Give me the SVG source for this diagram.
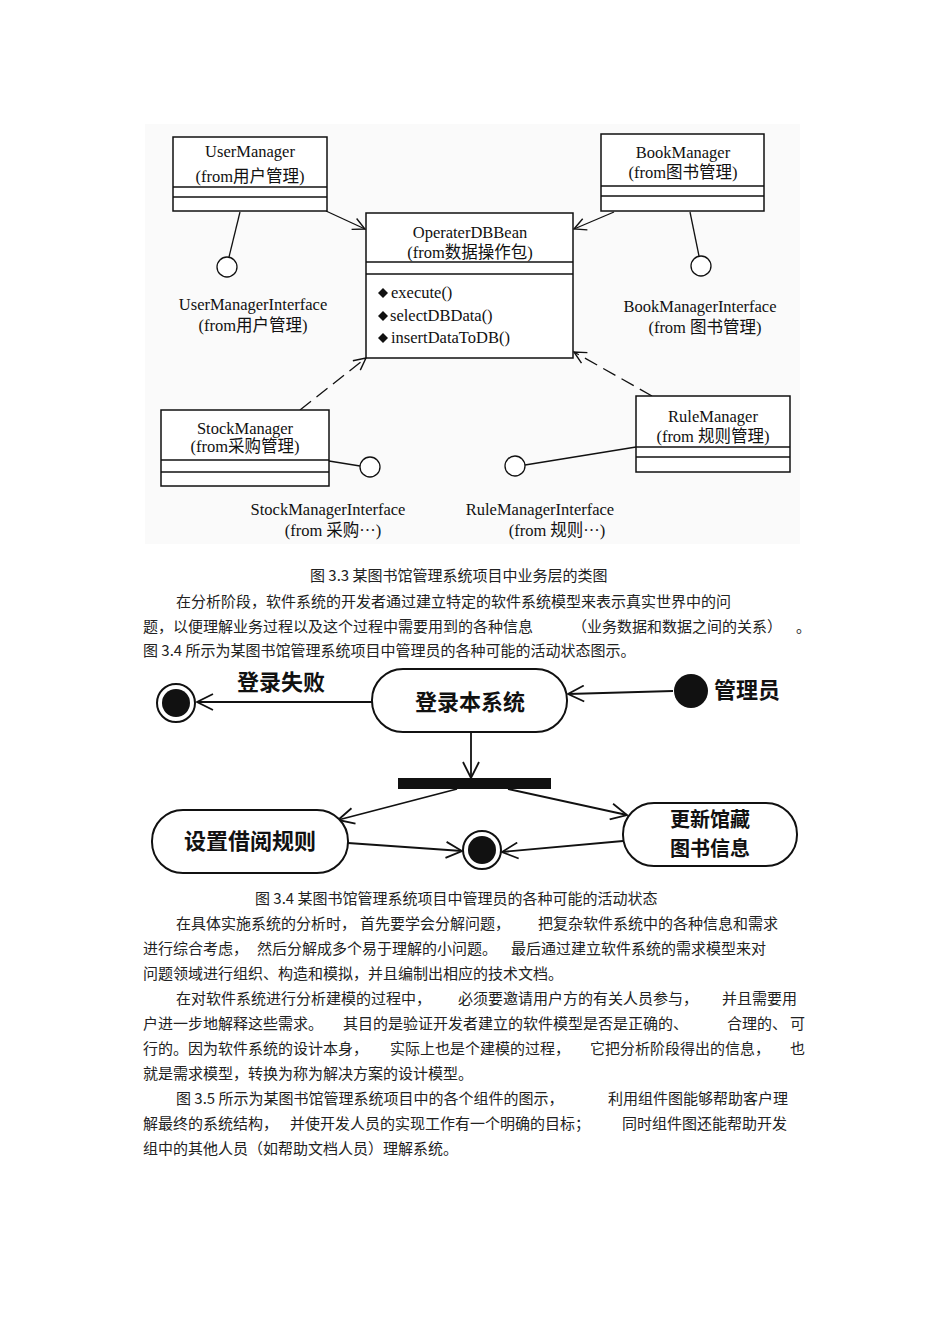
<svg xmlns="http://www.w3.org/2000/svg" width="950" height="1343" viewBox="0 0 950 1343">
<style>
.bg{fill:#ffffff}
.cls{fill:#ffffff;stroke:#111;stroke-width:1.5}
.sep{stroke:#111;stroke-width:1.5}
.ln{stroke:#111;stroke-width:1.3;fill:none}
.dash{stroke:#111;stroke-width:1.3;fill:none;stroke-dasharray:14 7}
.itf{fill:#ffffff;stroke:#111;stroke-width:1.3}
.t{font-family:"Liberation Serif","Noto Sans CJK SC",serif;font-size:16.5px;fill:#111;text-anchor:middle}
.m{font-family:"Liberation Serif","Noto Sans CJK SC",serif;font-size:16.5px;fill:#111}
.act{fill:#ffffff;stroke:#111;stroke-width:2}
.aln{stroke:#111;stroke-width:1.8;fill:none}
.at{font-family:"Noto Sans CJK SC",sans-serif;font-size:22px;font-weight:bold;fill:#111}
.at2{font-family:"Noto Sans CJK SC",sans-serif;font-size:20px;font-weight:bold;fill:#111;text-anchor:middle}
.p{font-family:"Noto Sans CJK SC",sans-serif;font-size:15px;fill:#222}
.cap{font-family:"Noto Sans CJK SC",sans-serif;font-size:15px;fill:#222}
</style>
<defs>
<marker id="open" markerUnits="userSpaceOnUse" markerWidth="14" markerHeight="14" viewBox="0 0 14 14" refX="13" refY="7" orient="auto">
<path d="M1,1 L13,7 L1,13" fill="none" stroke="#111" stroke-width="1.4"/>
</marker>
<marker id="open2" markerUnits="userSpaceOnUse" markerWidth="18" markerHeight="18" viewBox="0 0 18 18" refX="17" refY="9" orient="auto">
<path d="M1,1 L17,9 L1,17" fill="none" stroke="#111" stroke-width="1.8"/>
</marker>
</defs>
<rect class="bg" x="0" y="0" width="950" height="1343"/>
<rect x="145" y="124" width="655" height="420" fill="#fafafa"/>

<!-- class diagram connectors -->
<g id="class-connectors">
<line class="ln" x1="326" y1="211" x2="365" y2="229" marker-end="url(#open)"/>
<line class="ln" x1="614" y1="212" x2="574" y2="229" marker-end="url(#open)"/>
<line class="dash" x1="300" y1="410" x2="366" y2="358" marker-end="url(#open)"/>
<line class="dash" x1="652" y1="396" x2="574" y2="352" marker-end="url(#open)"/>
<line class="ln" x1="240" y1="212" x2="229" y2="257"/>
<line class="ln" x1="690" y1="212" x2="699" y2="256"/>
<line class="ln" x1="329" y1="461" x2="360" y2="466"/>
<line class="ln" x1="636" y1="447" x2="525" y2="465"/>
</g>

<g id="UserManager">
<rect class="cls" x="173" y="137" width="154" height="74"/>
<line class="sep" x1="173" y1="187" x2="327" y2="187"/>
<line class="sep" x1="173" y1="197" x2="327" y2="197"/>
<text class="t" x="250" y="157">UserManager</text>
<text class="t" x="250" y="182">(from用户管理)</text>
</g>

<g id="OperaterDBBean">
<rect class="cls" x="366" y="213" width="207" height="145"/>
<line class="sep" x1="366" y1="262" x2="573" y2="262"/>
<line class="sep" x1="366" y1="274" x2="573" y2="274"/>
<text class="t" x="470" y="238">OperaterDBBean</text>
<text class="t" x="470" y="258">(from数据操作包)</text>
<polygon points="383,288 388,293 383,298 378,293" fill="#111"/>
<text class="m" x="391" y="298">execute()</text>
<polygon points="383,311 388,316 383,321 378,316" fill="#111"/>
<text class="m" x="390" y="321">selectDBData()</text>
<polygon points="383,333 388,338 383,343 378,338" fill="#111"/>
<text class="m" x="391" y="343">insertDataToDB()</text>
</g>

<g id="BookManager">
<rect class="cls" x="601" y="134" width="163" height="77"/>
<line class="sep" x1="601" y1="186" x2="764" y2="186"/>
<line class="sep" x1="601" y1="196" x2="764" y2="196"/>
<text class="t" x="683" y="158">BookManager</text>
<text class="t" x="683" y="178">(from图书管理)</text>
</g>

<g id="StockManager">
<rect class="cls" x="161" y="410" width="168" height="76"/>
<line class="sep" x1="161" y1="460" x2="329" y2="460"/>
<line class="sep" x1="161" y1="472" x2="329" y2="472"/>
<text class="t" x="245" y="434">StockManager</text>
<text class="t" x="245" y="452">(from采购管理)</text>
</g>

<g id="RuleManager">
<rect class="cls" x="636" y="396" width="154" height="76"/>
<line class="sep" x1="636" y1="447" x2="790" y2="447"/>
<line class="sep" x1="636" y1="457" x2="790" y2="457"/>
<text class="t" x="713" y="422">RuleManager</text>
<text class="t" x="713" y="442">(from 规则管理)</text>
</g>

<g id="UserManagerInterface">
<circle class="itf" cx="227" cy="267" r="10"/>
<text class="t" x="253" y="310">UserManagerInterface</text>
<text class="t" x="253" y="331">(from用户管理)</text>
</g>
<g id="BookManagerInterface">
<circle class="itf" cx="701" cy="266" r="10"/>
<text class="t" x="700" y="312">BookManagerInterface</text>
<text class="t" x="705" y="333">(from 图书管理)</text>
</g>
<g id="StockManagerInterface">
<circle class="itf" cx="370" cy="467" r="10"/>
<text class="t" x="328" y="515">StockManagerInterface</text>
<text class="t" x="333" y="536">(from 采购···)</text>
</g>
<g id="RuleManagerInterface">
<circle class="itf" cx="515" cy="466" r="10"/>
<text class="t" x="540" y="515">RuleManagerInterface</text>
<text class="t" x="557" y="536">(from 规则···)</text>
</g>

<text class="cap" x="310" y="581">图 3.3 某图书馆管理系统项目中业务层的类图</text>
<text class="p" x="176" y="607">在分析阶段，软件系统的开发者通过建立特定的软件系统模型来表示真实世界中的问</text>
<text class="p" x="143" y="632">题，以便理解业务过程以及这个过程中需要用到的各种信息</text>
<text class="p" x="572" y="632">（业务数据和数据之间的关系）</text>
<text class="p" x="796" y="632">。</text>
<text class="p" x="143" y="656">图 3.4 所示为某图书馆管理系统项目中管理员的各种可能的活动状态图示。</text>

<!-- activity diagram connectors -->
<g id="activity-connectors">
<line class="aln" x1="372" y1="702" x2="197" y2="702" marker-end="url(#open2)"/>
<line class="aln" x1="673" y1="691" x2="568" y2="694" marker-end="url(#open2)"/>
<line class="aln" x1="471" y1="732" x2="471" y2="778" marker-end="url(#open2)"/>
<line class="aln" x1="457" y1="789" x2="338" y2="820" marker-end="url(#open2)"/>
<line class="aln" x1="508" y1="789" x2="627" y2="815" marker-end="url(#open2)"/>
<line class="aln" x1="348" y1="843" x2="462" y2="851" marker-end="url(#open2)"/>
<line class="aln" x1="623" y1="841" x2="502" y2="852" marker-end="url(#open2)"/>
</g>

<g id="final-left">
<circle cx="176" cy="703" r="19" fill="#fff" stroke="#111" stroke-width="2"/>
<circle cx="176" cy="703" r="14" fill="#111"/>
</g>
<text class="at" x="237" y="690">登录失败</text>

<g id="login">
<rect class="act" x="372" y="669" width="195" height="63" rx="31" ry="31"/>
<text class="at" x="470" y="710" text-anchor="middle">登录本系统</text>
</g>

<g id="start">
<circle cx="691" cy="691" r="17" fill="#111"/>
<text class="at" x="714" y="698">管理员</text>
</g>

<g id="fork">
<rect x="398" y="778" width="153" height="11" fill="#111"/>
</g>

<g id="set-rules">
<rect class="act" x="152" y="810" width="196" height="63" rx="31" ry="31"/>
<text class="at" x="250" y="849" text-anchor="middle">设置借阅规则</text>
</g>

<g id="final-center">
<circle cx="482" cy="850" r="19" fill="#fff" stroke="#111" stroke-width="2"/>
<circle cx="482" cy="850" r="14" fill="#111"/>
</g>

<g id="update-books">
<rect class="act" x="623" y="803" width="174" height="63" rx="31" ry="31"/>
<text class="at2" x="710" y="827">更新馆藏<tspan x="710" dy="29">图书信息</tspan></text>
</g>

<text class="cap" x="255" y="904">图 3.4 某图书馆管理系统项目中管理员的各种可能的活动状态</text>
<text class="p" x="176" y="929">在具体实施系统的分析时，</text>
<text class="p" x="360" y="929">首先要学会分解问题，</text>
<text class="p" x="538" y="929">把复杂软件系统中的各种信息和需求</text>
<text class="p" x="143" y="954">进行综合考虑，</text>
<text class="p" x="257" y="954">然后分解成多个易于理解的小问题。</text>
<text class="p" x="511" y="954">最后通过建立软件系统的需求模型来对</text>
<text class="p" x="143" y="979">问题领域进行组织、构造和模拟，并且编制出相应的技术文档。</text>
<text class="p" x="176" y="1004">在对软件系统进行分析建模的过程中，</text>
<text class="p" x="458" y="1004">必须要邀请用户方的有关人员参与，</text>
<text class="p" x="722" y="1004">并且需要用</text>
<text class="p" x="143" y="1029">户进一步地解释这些需求。</text>
<text class="p" x="343" y="1029">其目的是验证开发者建立的软件模型是否是正确的、</text>
<text class="p" x="727" y="1029">合理的、</text>
<text class="p" x="790" y="1029">可</text>
<text class="p" x="143" y="1054">行的。因为软件系统的设计本身，</text>
<text class="p" x="390" y="1054">实际上也是个建模的过程，</text>
<text class="p" x="590" y="1054">它把分析阶段得出的信息，</text>
<text class="p" x="790" y="1054">也</text>
<text class="p" x="143" y="1079">就是需求模型，转换为称为解决方案的设计模型。</text>
<text class="p" x="176" y="1104">图 3.5 所示为某图书馆管理系统项目中的各个组件的图示，</text>
<text class="p" x="608" y="1104">利用组件图能够帮助客户理</text>
<text class="p" x="143" y="1129">解最终的系统结构，</text>
<text class="p" x="290" y="1129">并使开发人员的实现工作有一个明确的目标；</text>
<text class="p" x="622" y="1129">同时组件图还能帮助开发</text>
<text class="p" x="143" y="1154">组中的其他人员（如帮助文档人员）理解系统。</text>
</svg>
